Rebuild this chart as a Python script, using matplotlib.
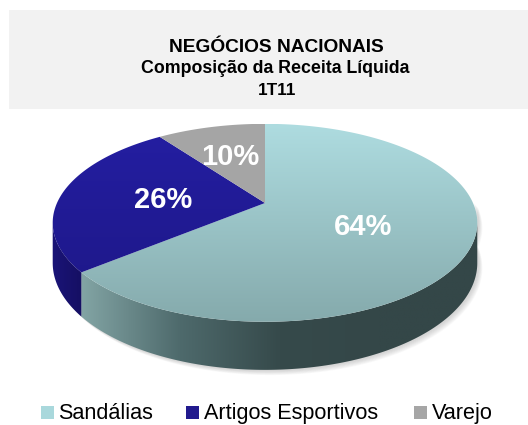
import numpy as np
import matplotlib.pyplot as plt
from matplotlib.patches import Polygon, Rectangle
from matplotlib.colors import LinearSegmentedColormap

# data
categories = ["Sandálias", "Artigos Esportivos", "Varejo"]
shares = [64, 26, 10]
pct_labels = ["64%", "26%", "10%"]
title_lines = ["NEGÓCIOS NACIONAIS", "Composição da Receita Líquida", "1T11"]

# styles
legend_colors = ["#A9D8DC", "#211A8E", "#A6A6A6"]
top_grad = [("#AEDCE0", "#85AAAC"), ("#241EA2", "#1D1785"), ("#A6A6A6", "#A4A4A4")]
wall_grad = [["#83A5A5", "#4E6A6C", "#364A4B", "#344748", "#344748"],
             ["#1A1478", "#150F62"], ["#8A8A8A", "#707070"]]
label_r = [0.5, 0.5, 0.6]

plt.rcParams['font.family'] = ['Liberation Sans', 'DejaVu Sans']

# tilted disc seen in perspective (pixel units)
cx, cy = 265, 203
R, RY = 208, 95
K = 0.2
DEPTH = 38.5


def proj(theta, f=1.0, drop=0.0):
    t = np.radians(theta)
    d = 1 + K * f * np.cos(t)
    x = cx + f * R * np.sin(t) / d
    y = cy - f * RY * np.cos(t) / d + drop / d
    return x, y


def grad_fill(ax, pts, colors, direction, extent, z):
    poly = Polygon(pts, closed=True, facecolor='none', edgecolor='none', zorder=z)
    ax.add_patch(poly)
    cmap = LinearSegmentedColormap.from_list('g', colors)
    if direction == 'v':
        g = np.linspace(0, 1, 256).reshape(-1, 1)
    else:
        g = np.linspace(0, 1, 256).reshape(1, -1)
    im = ax.imshow(g, cmap=cmap, extent=extent, aspect='auto', zorder=z,
                   interpolation='bilinear')
    im.set_clip_path(poly)


fig = plt.figure(figsize=(5.28, 4.25), dpi=100)
ax = fig.add_axes([0, 0, 1, 1])

# title box
ax.add_patch(Rectangle((9, 10), 519, 99, facecolor='#F2F2F2', edgecolor='none', zorder=0))
ax.text(276, 52, title_lines[0], ha='center', va='baseline', fontsize=13.8, fontweight='bold')
ax.text(275, 73, title_lines[1], ha='center', va='baseline', fontsize=12.8, fontweight='bold')
ax.text(277, 95, title_lines[2], ha='center', va='baseline', fontsize=12.3, fontweight='bold')

# slice angles, clockwise from 12 o'clock
edges = np.concatenate([[0], np.cumsum(shares) / np.sum(shares) * 360])
side_lo = np.degrees(np.arccos(-K))
side_hi = 360 - side_lo

# soft shadow under the disc
th = np.linspace(side_lo - 12, side_hi + 12, 200)
for i in range(7):
    bx, by = proj(th, drop=DEPTH)
    tx, ty = proj(th[::-1])
    pts = np.column_stack([np.r_[bx, tx] + 1.5 + i * 0.6, np.r_[by, ty] + 1 + i * 0.7])
    ax.add_patch(Polygon(pts, closed=True, facecolor='#808080', edgecolor='none',
                         alpha=0.05, zorder=1))

# side walls
for i in range(len(shares)):
    a0 = max(edges[i], side_lo)
    a1 = min(edges[i + 1], side_hi)
    if a1 <= a0:
        continue
    th = np.linspace(a0, a1, 150)
    tx, ty = proj(th)
    bx, by = proj(th[::-1], drop=DEPTH)
    pts = np.column_stack([np.r_[tx, bx], np.r_[ty, by]])
    grad_fill(ax, pts, wall_grad[i], 'h',
              [pts[:, 0].min() - 1, pts[:, 0].max() + 1, pts[:, 1].max() + 1, pts[:, 1].min() - 1], 2)

# top faces
top_y = proj(0)[1]
bot_y = proj(180)[1]
for i in range(len(shares)):
    th = np.linspace(edges[i], edges[i + 1], 200)
    ex, ey = proj(th)
    pts = np.column_stack([np.r_[cx, ex], np.r_[cy, ey]])
    grad_fill(ax, pts, top_grad[i], 'v', [40, 490, bot_y, top_y], 3)

# percentage labels
for i in range(len(shares)):
    mid = (edges[i] + edges[i + 1]) / 2
    lx, ly = proj(mid, f=label_r[i])
    ax.text(lx, ly + 10.5, pct_labels[i], ha='center', va='baseline', color='white',
            fontsize=21, fontweight='bold', zorder=5)

# legend
leg_x = [41, 186, 414]
for i in range(len(categories)):
    ax.add_patch(Rectangle((leg_x[i], 405.5), 13, 13, facecolor=legend_colors[i],
                           edgecolor='none', zorder=4))
    ax.text(leg_x[i] + 17.5, 419, categories[i], ha='left', va='baseline', fontsize=15.6)

ax.set_xlim(0, 528)
ax.set_ylim(425, 0)
ax.axis('off')
fig.savefig('out.png', dpi=100)
